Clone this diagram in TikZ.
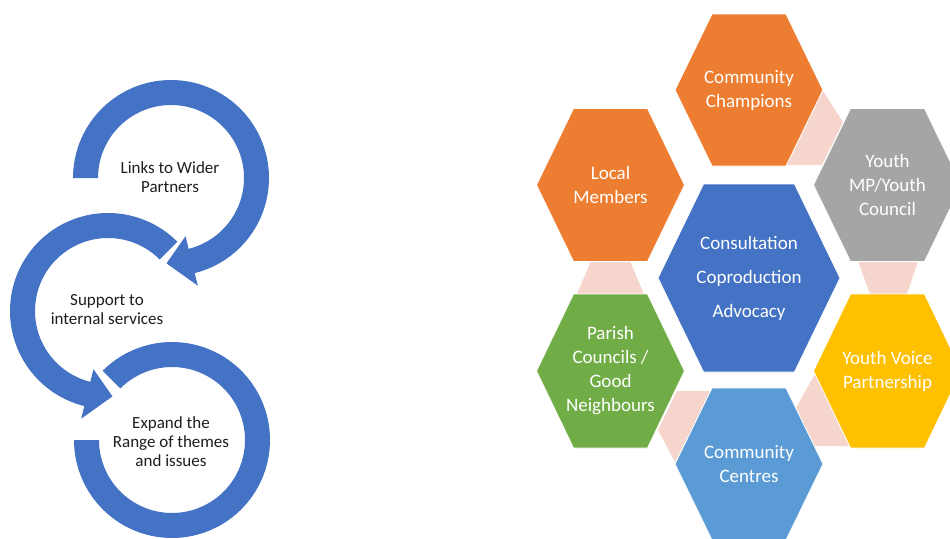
\documentclass[tikz,border=0pt]{standalone}
\usepackage{fontspec}
\setmainfont{Carlito}
\definecolor{cblue}{HTML}{4472C4}
\definecolor{corange}{HTML}{ED7D31}
\definecolor{cgray}{HTML}{A5A5A5}
\definecolor{cyellow}{HTML}{FFC000}
\definecolor{cgreen}{HTML}{70AD47}
\definecolor{clblue}{HTML}{5B9BD5}
\definecolor{cpink}{HTML}{F6D6CC}
\definecolor{ctext}{HTML}{1E1E1E}
\tikzset{
  ringfill/.style={fill=cblue},
  pinkfill/.style={fill=cpink},
  hexshape/.style={draw=white, line width=0.8pt},
  hextext/.style={text=white, align=center, font=\fontsize{19}{24}\selectfont, inner sep=0pt},
  maintext/.style={text=white, align=center, font=\fontsize{19}{34}\selectfont, inner sep=0pt},
  cyctext/.style={text=ctext, align=center, font=\fontsize{17}{19}\selectfont, inner sep=0pt}
}
% name, cx, cy, half width, half height, colour, text
\newcommand{\HexNode}[7]{%
  \fill[hexshape, fill=#6] ({#2-#4},#3) -- ({#2-#4/2},{#3-#5}) -- ({#2+#4/2},{#3-#5})
     -- ({#2+#4},#3) -- ({#2+#4/2},{#3+#5}) -- ({#2-#4/2},{#3+#5}) -- cycle;
  \node[hextext] (#1) at (#2,#3) {#7};%
}
% cx, cy, start angle, end angle (ring body)
\newcommand{\RingBody}[4]{%
  \fill[ringfill] plot[domain=#3:#4, samples=90] ({#1+98*cos(\x)},{#2+98*sin(\x)})
    -- plot[domain=#4:#3, samples=90] ({#1+73*cos(\x)},{#2+73*sin(\x)}) -- cycle;%
}
% cx, cy, back angle, tip angle
\newcommand{\RingHead}[4]{%
  \fill[ringfill] ({#1+60*cos(#3)},{#2+60*sin(#3)}) -- ({#1+111*cos(#3)},{#2+111*sin(#3)})
    -- ({#1+85.5*cos(#4)},{#2+85.5*sin(#4)}) -- cycle;%
}
\begin{document}
\begin{tikzpicture}[x=1pt,y=-1pt]
\useasboundingbox (0,0) rectangle (950,538);
\clip (0,0) rectangle (950,538);
\fill[white] (0,0) rectangle (950,538);

% ---- circular arrows (left) ----
\RingBody{171}{178}{180}{437}
\RingHead{171}{178}{436}{453}
\RingBody{108}{311}{103}{315}
\RingHead{108}{311}{104}{87}
\RingBody{172}{440}{225}{540}

\node[cyctext] (links) at (170,177) {Links to Wider\\Partners};
\node[cyctext] (support) at (107,310) {Support to\\internal services};
\node[cyctext] (expand) at (171,442) {Expand the\\Range of themes\\and issues};

% ---- pink connectors ----
\fill[pinkfill] (823,91) -- (843,122) -- (822,165) -- (787,165) -- cycle;
\fill[pinkfill] (591,261) -- (630,261) -- (644,294) -- (577,294) -- cycle;
\fill[pinkfill] (858,261) -- (918,261) -- (907,294) -- (870,294) -- cycle;
\fill[pinkfill] (677,391) -- (711,391) -- (675,462) -- (658,430) -- cycle;
\fill[pinkfill] (815,374) -- (849,446) -- (814,446) -- (796,408) -- cycle;

% ---- hexagons ----
\HexNode{champions}{749}{90}{74}{76}{corange}{Community\\Champions}
\HexNode{local}{610.5}{185}{74}{76.5}{corange}{Local\\Members}
\HexNode{youthmp}{887.5}{185}{74}{76.5}{cgray}{Youth\\MP/Youth\\Council}
\HexNode{parish}{610.5}{371}{74}{77}{cgreen}{Parish\\Councils /\\Good\\Neighbours}
\HexNode{youthvoice}{887.5}{371}{74}{77}{cyellow}{Youth Voice\\Partnership}
\HexNode{centres}{749}{464}{74}{76}{clblue}{Community\\Centres}

\fill[hexshape, fill=cblue] (658,278) -- (703.5,184) -- (794.5,184) -- (840,278)
   -- (794.5,372) -- (703.5,372) -- cycle;
\node[maintext] (main) at (749,278) {Consultation\\Coproduction\\Advocacy};
\end{tikzpicture}
\end{document}
